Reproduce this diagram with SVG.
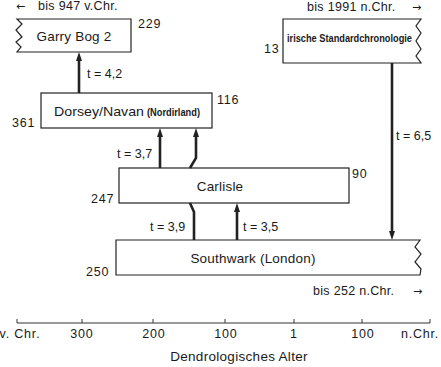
<svg xmlns="http://www.w3.org/2000/svg" width="441" height="367" viewBox="0 0 441 367">
<style>
text{font-family:"Liberation Sans",Arial,sans-serif;fill:#1a1a1a}
.box{fill:#fff;stroke:#222;stroke-width:1.2}
.name{font-size:13.5px;text-anchor:middle;letter-spacing:0.2px}
.num{font-size:12.5px;letter-spacing:0.8px}
.t{font-size:12.5px}
.cond{font-weight:bold}
.conn{stroke:#222;stroke-width:2.6;fill:none}
.ax{font-size:12.5px;text-anchor:middle;letter-spacing:0.8px}
.note{font-size:12.5px;letter-spacing:0.3px}
.arr{font-family:"DejaVu Sans",sans-serif;font-size:11px}
</style>
<defs>
<marker id="ah" markerUnits="userSpaceOnUse" markerWidth="9" markerHeight="7" refX="3" refY="3" orient="auto">
<path d="M0,0 L9,3 L0,6 z" fill="#222"/>
</marker>
</defs>
<g id="garrybog">
<path class="box" d="M17,19 L131,19 L131,52 L17,52 L21,47 L16,42 L22,37 L16,30 L22,24 Z"/>
<text class="name" x="74" y="41">Garry Bog 2</text>
<text class="num" x="138" y="28">229</text>
<text class="arr" x="16" y="10">←</text>
<text class="note" x="38" y="10">bis 947 v.Chr.</text>
</g>
<g id="irische">
<path class="box" d="M283,19 L421,19 L416,26 L421,33 L416,41 L421,49 L416,56 L421,63 L283,63 Z"/>
<text class="cond" x="287" y="42" font-size="11" textLength="125" lengthAdjust="spacingAndGlyphs">irische Standardchronologie</text>
<text class="num" x="264" y="53">13</text>
<text class="note" x="307" y="11">bis 1991 n.Chr.</text>
<text class="arr" x="412" y="11">→</text>
</g>
<g id="dorsey">
<rect class="box" x="41" y="93" width="171" height="35"/>
<text x="54" y="116" font-size="13.5" textLength="90" lengthAdjust="spacingAndGlyphs">Dorsey/Navan</text>
<text class="cond" x="147" y="116" font-size="10.5" textLength="53" lengthAdjust="spacingAndGlyphs">(Nordirland)</text>
<text class="num" x="217" y="104">116</text>
<text class="num" x="12" y="127">361</text>
</g>
<g id="carlisle">
<rect class="box" x="119" y="168" width="230" height="35"/>
<text class="name" x="220" y="191">Carlisle</text>
<text class="num" x="352" y="178">90</text>
<text class="num" x="91" y="203">247</text>
</g>
<g id="southwark">
<path class="box" d="M116,240 L420,240 L415,247 L421,254 L415,262 L421,269 L420,275 L116,275 Z"/>
<text class="name" x="253" y="263">Southwark (London)</text>
<text class="num" x="86" y="276">250</text>
<text class="note" x="313" y="295">bis 252 n.Chr.</text>
<text class="arr" x="413" y="295">→</text>
</g>
<g id="connectors">
<line class="conn" x1="79" y1="93" x2="79" y2="58" marker-end="url(#ah)"/>
<line class="conn" x1="160" y1="168" x2="160" y2="134" marker-end="url(#ah)"/>
<polyline class="conn" points="190,168 196,158 196,134" marker-end="url(#ah)"/>
<polyline class="conn" points="194,240 194,212 190,203"/>
<line class="conn" x1="237" y1="240" x2="237" y2="209" marker-end="url(#ah)"/>
<line class="conn" x1="392" y1="63" x2="392" y2="234" marker-end="url(#ah)"/>
<text class="t" x="87" y="78">t = 4,2</text>
<text class="t" x="117" y="158">t = 3,7</text>
<text class="t" x="150" y="231">t = 3,9</text>
<text class="t" x="243" y="231">t = 3,5</text>
<text class="t" x="396" y="140">t = 6,5</text>
</g>
<g id="axis">
<line x1="17" y1="323" x2="430" y2="323" stroke="#333" stroke-width="1"/>
<path d="M17,319V323M82,319V323M153,319V323M225,319V323M294,319V323M362,319V323M430,319V323" stroke="#333" stroke-width="1"/>
<text class="ax" x="20" y="338">v. Chr.</text>
<text class="ax" x="82" y="338">300</text>
<text class="ax" x="154" y="338">200</text>
<text class="ax" x="226" y="338">100</text>
<text class="ax" x="294" y="338">1</text>
<text class="ax" x="363" y="338">100</text>
<text class="ax" x="420" y="338">n.Chr.</text>
<text x="239" y="361" font-size="13.5" text-anchor="middle" letter-spacing="0.3">Dendrologisches Alter</text>
</g>
</svg>
